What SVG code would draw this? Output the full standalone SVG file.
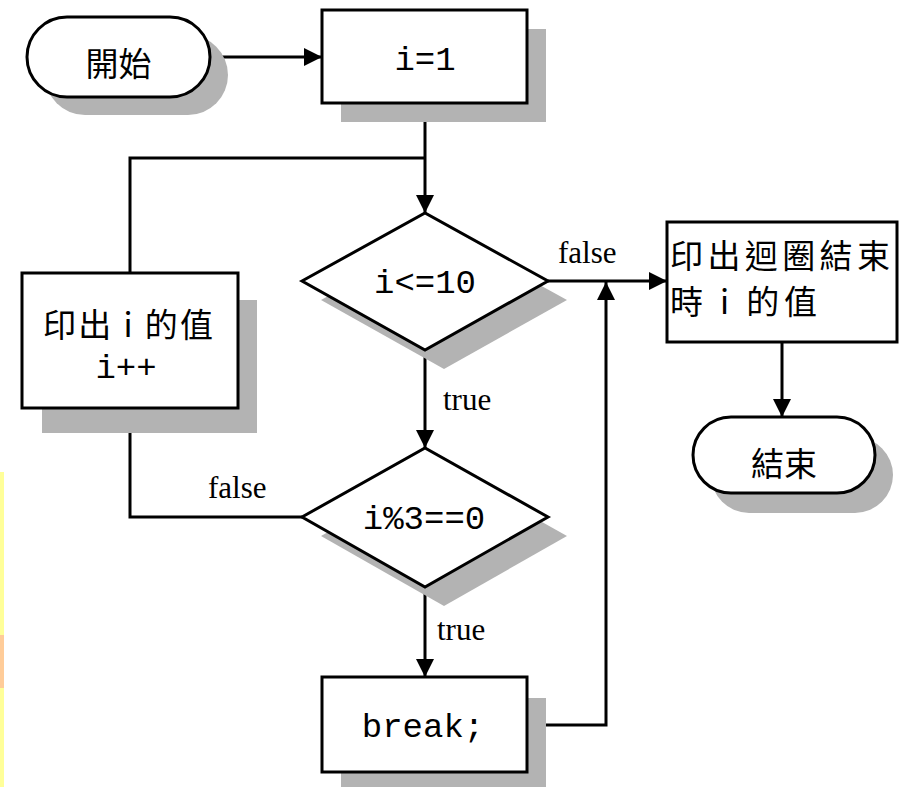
<svg xmlns="http://www.w3.org/2000/svg" width="899" height="787" viewBox="0 0 899 787">
  <style>
    .box { fill: #ffffff; stroke: #000000; stroke-width: 3; }
    .shadow { fill: #b3b3b3; stroke: none; }
    .line { fill: none; stroke: #000000; stroke-width: 3; }
    .cjk { font-family: "Noto Sans CJK TC", "Noto Sans CJK SC", sans-serif; font-size: 33px; fill: #000000; }
    .code { font-family: "Liberation Mono", "DejaVu Sans Mono", monospace; font-size: 34px; fill: #000000; }
    .label { font-family: "Liberation Serif", "DejaVu Serif", serif; font-size: 31px; fill: #000000; }
  </style>
  <defs>
    <marker id="arrow" markerUnits="userSpaceOnUse" markerWidth="18" markerHeight="18" refX="18" refY="9" orient="auto">
      <path d="M0,0 L18,9 L0,18 z" fill="#000000"/>
    </marker>
  </defs>

  <rect x="0" y="0" width="899" height="787" fill="#ffffff"/>

  <!-- page margin strips -->
  <rect x="0" y="472" width="4" height="315" fill="#ffff99"/>
  <rect x="0" y="635" width="4" height="53" fill="#ffcc99"/>

  <!-- connectors -->
  <g id="connectors">
    <path class="line" d="M210,57 H322" marker-end="url(#arrow)"/>
    <path class="line" d="M425,103 V213" marker-end="url(#arrow)"/>
    <path class="line" d="M130,273 V158 H425"/>
    <path class="line" d="M548,281 H667" marker-end="url(#arrow)"/>
    <path class="line" d="M425,350 V448" marker-end="url(#arrow)"/>
    <path class="line" d="M302,517 H130 V408" marker-end="url(#arrow)"/>
    <path class="line" d="M425,587 V677" marker-end="url(#arrow)"/>
    <path class="line" d="M527,725 H606 V282" marker-end="url(#arrow)"/>
    <path class="line" d="M782,342 V417" marker-end="url(#arrow)"/>
    <text class="label" x="558" y="263">false</text>
    <text class="label" x="443" y="410">true</text>
    <text class="label" x="208" y="498">false</text>
    <text class="label" x="437" y="640">true</text>
  </g>

  <!-- start terminal -->
  <g id="start">
    <rect class="shadow" x="45" y="35" width="183" height="80" rx="40"/>
    <rect class="box" x="27" y="17" width="183" height="80" rx="40"/>
    <text class="cjk" x="118.5" y="76" text-anchor="middle">開始</text>
  </g>

  <!-- i=1 -->
  <g id="init">
    <rect class="shadow" x="341" y="29" width="205" height="93"/>
    <rect class="box" x="322" y="10" width="205" height="93"/>
    <text class="code" x="425" y="70" text-anchor="middle">i=1</text>
  </g>

  <!-- condition i<=10 -->
  <g id="cond-loop">
    <polygon class="shadow" points="321,300 444,232 567,300 444,369"/>
    <polygon class="box" points="302,281 425,213 548,281 425,350"/>
    <text class="code" x="425" y="293" text-anchor="middle">i&lt;=10</text>
  </g>

  <!-- print i, i++ -->
  <g id="print-inc">
    <rect class="shadow" x="42" y="300" width="215" height="133"/>
    <rect class="box" x="22" y="273" width="216" height="135"/>
    <text class="cjk" x="128" y="337" text-anchor="middle" textLength="170" lengthAdjust="spacing">印出 i 的值</text>
    <text class="code" x="126" y="378" text-anchor="middle">i++</text>
  </g>

  <!-- condition i%3==0 -->
  <g id="cond-mod">
    <polygon class="shadow" points="321,536 444,467 567,536 444,606"/>
    <polygon class="box" points="302,517 425,448 548,517 425,587"/>
    <text class="code" x="424" y="529" text-anchor="middle">i%3==0</text>
  </g>

  <!-- break; -->
  <g id="break">
    <rect class="shadow" x="341" y="698" width="205" height="95"/>
    <rect class="box" x="322" y="677" width="205" height="95"/>
    <text class="code" x="423" y="737" text-anchor="middle">break;</text>
  </g>

  <!-- print final i -->
  <g id="print-final">
    <rect class="box" x="667" y="222" width="230" height="120"/>
    <text class="cjk" x="670" y="268" textLength="220" lengthAdjust="spacing">印出迴圈結束</text>
    <text class="cjk" x="670" y="314" textLength="147" lengthAdjust="spacing">時 i 的值</text>
  </g>

  <!-- end terminal -->
  <g id="end">
    <rect class="shadow" x="711" y="437" width="182" height="76" rx="38"/>
    <rect class="box" x="693" y="417" width="182" height="76" rx="38"/>
    <text class="cjk" x="784" y="476" text-anchor="middle">結束</text>
  </g>
</svg>
